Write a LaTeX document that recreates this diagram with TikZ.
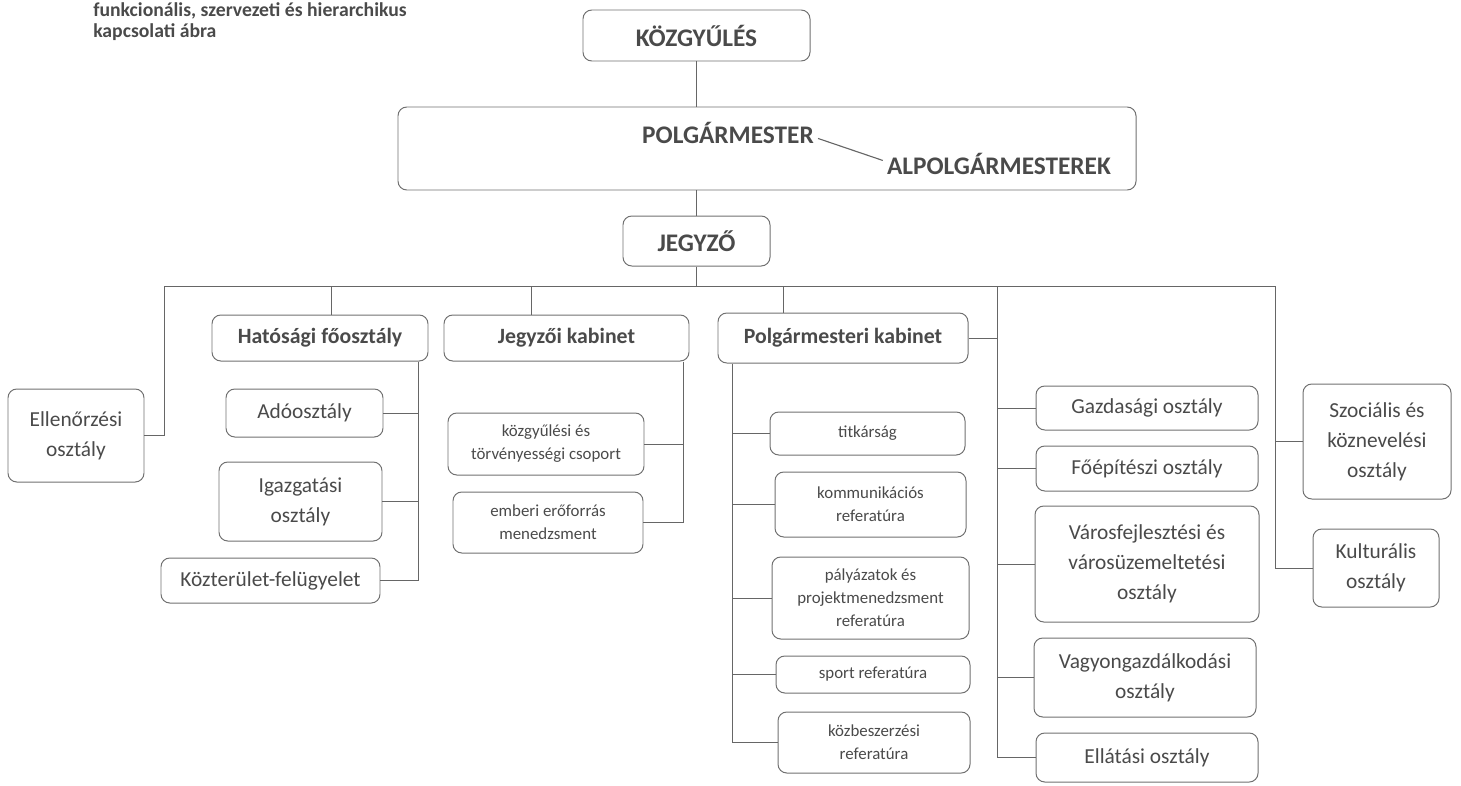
\documentclass[tikz,border=0pt]{standalone}
\usepackage{fontspec}
\setmainfont{Carlito}
\definecolor{textgray}{HTML}{4A4A4A}
\definecolor{boxgray}{HTML}{707070}
\definecolor{linegray}{HTML}{666666}
\tikzset{
  box/.style={draw=boxgray, line width=0.7pt, rounded corners=0.22cm, align=center, text=textgray, inner sep=2pt},
  boxsize/.style 2 args={minimum width=#1*0.025cm, minimum height=#2*0.025cm},
  ftitle/.style={font=\fontsize{14}{15}\selectfont\bfseries, text=textgray},
  fbig/.style={font=\fontsize{18}{21}\selectfont\bfseries},
  fhead/.style={font=\fontsize{15.5}{18}\selectfont\bfseries},
  ftxt/.style={font=\fontsize{15.2}{21.3}\selectfont},
  fsmall/.style={font=\fontsize{12}{16.4}\selectfont},
  link/.style={draw=linegray, line width=0.6pt}
}

\begin{document}
\begin{tikzpicture}[x=0.025cm, y=-0.025cm]
\useasboundingbox (0,0) rectangle (1461,785);

\node[ftitle, anchor=north west, align=left, inner sep=0pt] (title) at (93,2) {funkcionális, szervezeti és hierarchikus\\kapcsolati ábra};

\node[box, fbig, boxsize={227}{51}] (kgy) at (696.5,35.5) {KÖZGYŰLÉS};
\node[box, boxsize={738}{83}] (polg) at (767,148.5) {};
\node[fbig, text=textgray, anchor=base, inner sep=0.1cm] (pm) at (728,143) {POLGÁRMESTER};
\node[fbig, text=textgray, anchor=base, inner sep=0.1cm] (alp) at (999,174) {ALPOLGÁRMESTEREK};
\node[box, fbig, boxsize={147}{50}] (jegyzo) at (696.5,241) {JEGYZŐ};

\node[box, ftxt, boxsize={136}{93}] (ell) at (76,435.5) {Ellenőrzési\\osztály};

\node[box, fhead, boxsize={216}{46}] (hat) at (320,338) {Hatósági főosztály};
\node[box, ftxt, boxsize={157}{48}] (ado) at (304.5,413) {Adóosztály};
\node[box, ftxt, boxsize={163}{79}] (igaz) at (300.5,501.5) {Igazgatási\\osztály};
\node[box, ftxt, boxsize={219}{45}] (kozt) at (270.5,580.5) {Közterület-felügyelet};

\node[box, fhead, boxsize={245}{46}] (jkab) at (566.5,338) {Jegyzői kabinet};
\node[box, fsmall, boxsize={196}{62}] (kozgy) at (546,444) {közgyűlési és\\törvényességi csoport};
\node[box, fsmall, boxsize={190}{61}] (ember) at (548,522.5) {emberi erőforrás\\menedzsment};

\node[box, fhead, boxsize={250}{50}] (pkab) at (843,338) {Polgármesteri kabinet};
\node[box, fsmall, boxsize={195}{43}] (titk) at (867.5,433.5) {titkárság};
\node[box, fsmall, boxsize={191}{65}] (komm) at (870.5,504.5) {kommunikációs\\referatúra};
\node[box, fsmall, boxsize={197}{82}] (palyaz) at (870.5,598) {pályázatok és\\projektmenedzsment\\referatúra};
\node[box, fsmall, boxsize={194}{37}] (sport) at (873,674.5) {sport referatúra};
\node[box, fsmall, boxsize={192}{61}] (kozb) at (874,742.5) {közbeszerzési\\referatúra};

\node[box, ftxt, boxsize={222}{44}] (gazd) at (1147,408) {Gazdasági osztály};
\node[box, ftxt, boxsize={222}{45}] (foep) at (1147,468.5) {Főépítészi osztály};
\node[box, ftxt, boxsize={224}{116}] (varos) at (1147,564) {Városfejlesztési és\\városüzemeltetési\\osztály};
\node[box, ftxt, boxsize={222}{79}] (vagyon) at (1145,677.5) {Vagyongazdálkodási\\osztály};
\node[box, ftxt, boxsize={222}{49}] (ellat) at (1147,757.5) {Ellátási osztály};

\node[box, ftxt, boxsize={148}{115}] (szoc) at (1377,441.5) {Szociális és\\köznevelési\\osztály};
\node[box, ftxt, boxsize={126}{78}] (kult) at (1376,568) {Kulturális\\osztály};

\coordinate (busL) at (164,286);
\coordinate (busR) at (1275,286);
\coordinate (rv) at (997,286);
\coordinate (hatdrop) at ([xshift=0.275cm]hat.north);
\coordinate (jkdrop) at ([xshift=-0.8875cm]jkab.north);
\coordinate (pkdrop) at ([xshift=-1.5cm]pkab.north);
\coordinate (hatv) at ([xshift=-0.25cm]hat.south east);
\coordinate (jkv) at ([xshift=-0.15cm]jkab.south east);
\coordinate (pkv) at ([xshift=0.375cm]pkab.south west);

\draw[link] (kgy.south) -- (kgy.south |- polg.north);
\draw[link] (jegyzo.north) -- (jegyzo.north |- polg.south);
\draw[link] (jegyzo.south) -- (jegyzo.south |- busL);
\draw[link, line width=0.8pt] ([yshift=-0.15cm]pm.east) -- ([yshift=0.075cm]alp.west);

\draw[link] (ell.east) -| (busL) -- (busR) |- (kult.west);
\draw[link] (szoc.west) -- (szoc.west -| busR);
\draw[link] (hatdrop) -- (hatdrop |- busL);
\draw[link] (jkdrop) -- (jkdrop |- busL);
\draw[link] (pkdrop) -- (pkdrop |- busL);

\draw[link] (hatv) |- (kozt.east);
\draw[link] (ado.east) -- (ado.east -| hatv);
\draw[link] (igaz.east) -- (igaz.east -| hatv);

\draw[link] (jkv) |- (ember.east);
\draw[link] (kozgy.east) -- (kozgy.east -| jkv);

\draw[link] (pkv) |- (kozb.west);
\draw[link] (titk.west) -- (titk.west -| pkv);
\draw[link] (komm.west) -- (komm.west -| pkv);
\draw[link] (palyaz.west) -- (palyaz.west -| pkv);
\draw[link] (sport.west) -- (sport.west -| pkv);

\draw[link] (rv) |- (ellat.west);
\draw[link] (pkab.east) -- (pkab.east -| rv);
\draw[link] (gazd.west) -- (gazd.west -| rv);
\draw[link] (foep.west) -- (foep.west -| rv);
\draw[link] (varos.west) -- (varos.west -| rv);
\draw[link] (vagyon.west) -- (vagyon.west -| rv);
\end{tikzpicture}
\end{document}
